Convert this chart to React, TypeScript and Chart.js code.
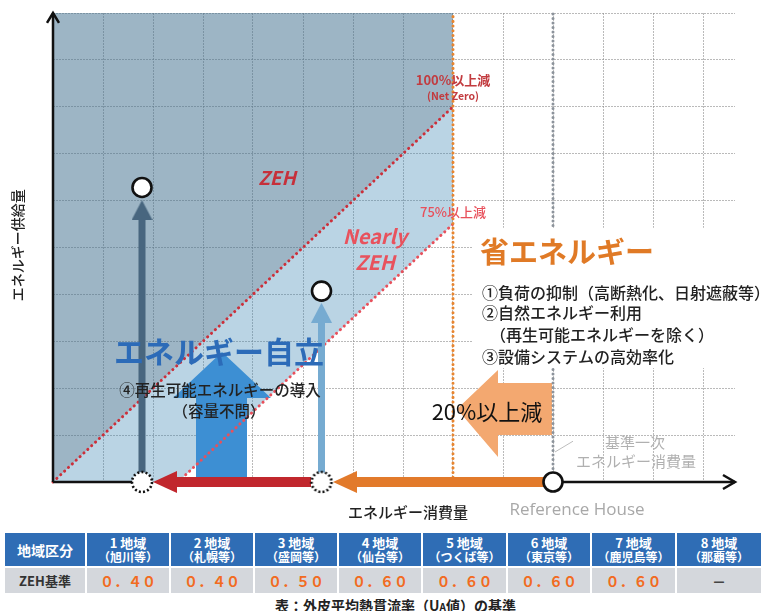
import React, { useEffect, useRef } from 'react';
import { Chart, registerables } from 'chart.js';

Chart.register(...registerables);

const FONT = '"Noto Sans CJK JP", "Noto Sans", sans-serif';

// ---- axis extents (relative units) ----
const X_MAX = 13.64;
const Y_MAX = 10;
const xGridTicks = [1, 2, 3, 4, 5, 6, 7, 8, 9, 10, 11, 12, 13];
const yGridTicks = [1, 2, 3, 4, 5, 6, 7, 8, 9, 10];

// ---- key energy levels ----
const referenceConsumption = 10; // Reference House
const zehConsumption = 8; // 20% reduction
const netZeroHouse = { consumption: 1.78, supply: 6.28 };
const nearlyZehHouse = { consumption: 5.37, supply: 4.07 };

// ---- regions / shapes (relative units) ----
const zehArea = [[0, 0], [8, 8], [8, 10], [0, 10]];
const nearlyArea = [[0, 0], [2.5, 0], [8, 5.5], [8, 8]];
const line100 = [[0, 0], [8, 8]];
const line75 = [[2.5, 0], [8, 5.5]];
const blueBigArrow = [[3.38, 2.77], [4.36, 1.79], [3.88, 1.79], [3.88, 0.1], [2.86, 0.1], [2.86, 1.79], [2.4, 1.79]];
const orangeBigArrow = [[8.08, 1.556], [8.9, 2.388], [8.9, 2.11], [9.98, 2.11], [9.98, 1.0], [8.9, 1.0], [8.9, 0.533]];
const darkShaft = [[1.78, 0], [1.78, 5.62]];
const darkHeadTip = [1.78, 6.01];
const lightShaft = [[5.37, 0], [5.37, 3.42]];
const lightHeadTip = [5.37, 3.82];
const redShaft = [[5.16, 0], [2.45, 0]];
const redHeadTip = [2.0, 0];
const orangeShaft = [[9.82, 0], [6.05, 0]];
const orangeHeadTip = [5.6, 0];
const xAxisLeft = [[0, 0], [1.6, 0]];
const xAxisRight = [[10, 0], [13.64, 0]];
const xAxisChevron = [[13.4, 0.15], [13.64, 0], [13.4, -0.15]];
const yAxisLine = [[0, 0], [0, 10]];
const yAxisChevron = [[-0.12, 9.79], [0, 10], [0.12, 9.79]];
const leaderLine = [[10.04, 0.64], [10.4, 0.87]];

// ---- table ----
const regionNames = ['1地域', '2地域', '3地域', '4地域', '5地域', '6地域', '7地域', '8地域'];
const regionCities = ['（旭川等）', '（札幌等）', '（盛岡等）', '（仙台等）', '（つくば等）', '（東京等）', '（鹿児島等）', '（那覇等）'];
const zehUaValues = ['０．４０', '０．４０', '０．５０', '０．６０', '０．６０', '０．６０', '０．６０', '－'];
const colWidths = [82, 84, 84, 84, 84, 85, 84, 85, 84];

type Label = { text: string; x: number; y: number; font: string; color: string; align?: CanvasTextAlign; rotate?: boolean };
const labels: Label[] = [
  { text: 'ZEH', x: 4.48, y: 6.48, font: 'italic bold 19px', color: '#c6303b' },
  { text: 'Nearly', x: 6.44, y: 5.245, font: 'italic bold 20px', color: '#e8525d' },
  { text: 'ZEH', x: 6.44, y: 4.69, font: 'italic bold 20px', color: '#e8525d' },
  { text: '100%以上減', x: 8.0, y: 8.57, font: 'bold 13px', color: '#c23b3f' },
  { text: '(Net Zero)', x: 8.0, y: 8.22, font: 'bold 10.5px', color: '#c23b3f' },
  { text: '75%以上減', x: 8.0, y: 5.76, font: '500 13px', color: '#e8505b' },
  { text: '省エネルギー', x: 8.54, y: 4.9, font: 'bold 29px', color: '#e07a26', align: 'left' },
  { text: '①負荷の抑制（高断熱化、日射遮蔽等）', x: 8.58, y: 4.03, font: '500 16px', color: '#222', align: 'left' },
  { text: '②自然エネルギー利用', x: 8.58, y: 3.6, font: '500 16px', color: '#222', align: 'left' },
  { text: '　（再生可能エネルギーを除く）', x: 8.58, y: 3.13, font: '500 16px', color: '#222', align: 'left' },
  { text: '③設備システムの高効率化', x: 8.58, y: 2.665, font: '500 16px', color: '#222', align: 'left' },
  { text: '20%以上減', x: 8.68, y: 1.49, font: '22px', color: '#111' },
  { text: '基準一次', x: 11.64, y: 0.853, font: '15px', color: '#b0b0b0' },
  { text: 'エネルギー消費量', x: 11.66, y: 0.45, font: '15px', color: '#b0b0b0' },
  { text: 'Reference House', x: 10.48, y: -0.6, font: '17px "Open Sans", ', color: '#a8a8a8' },
  { text: 'エネルギー消費量', x: 7.1, y: -0.64, font: '500 15px', color: '#222' },
  { text: 'エネルギー供給量', x: -0.7, y: 5.05, font: '500 14px', color: '#222', rotate: true },
  { text: 'エネルギー自立', x: 3.32, y: 2.77, font: 'bold 30px', color: '#2c6bb8' },
  { text: '④再生可能エネルギーの導入', x: 3.34, y: 1.96, font: '500 15.5px', color: '#222' },
  { text: '（容量不問）', x: 3.32, y: 1.51, font: '500 15.5px', color: '#222' },
];

const pts = (arr: number[][]) => arr.map(([x, y]) => ({ x, y }));

function arrowHeadCanvas(dir: 'up' | 'left', length: number, width: number, color: string) {
  const c = document.createElement('canvas');
  const ctx = c.getContext('2d')!;
  if (dir === 'up') {
    c.width = Math.ceil(width);
    c.height = Math.ceil(length * 2);
    ctx.fillStyle = color;
    ctx.beginPath();
    ctx.moveTo(width / 2, length);
    ctx.lineTo(width, length * 2);
    ctx.lineTo(0, length * 2);
    ctx.closePath();
    ctx.fill();
  } else {
    c.width = Math.ceil(length * 2);
    c.height = Math.ceil(width);
    ctx.fillStyle = color;
    ctx.beginPath();
    ctx.moveTo(length, width / 2);
    ctx.lineTo(length * 2, 0);
    ctx.lineTo(length * 2, width);
    ctx.closePath();
    ctx.fill();
  }
  return c;
}

function dottedCircleCanvas() {
  const c = document.createElement('canvas');
  c.width = 26;
  c.height = 26;
  const ctx = c.getContext('2d')!;
  ctx.beginPath();
  ctx.arc(13, 13, 10, 0, Math.PI * 2);
  ctx.fillStyle = '#fff';
  ctx.fill();
  ctx.setLineDash([2, 2.2]);
  ctx.lineWidth = 2.6;
  ctx.strokeStyle = '#111';
  ctx.stroke();
  return c;
}

export default function App() {
  const ref = useRef<HTMLCanvasElement>(null);

  useEffect(() => {
    if (!ref.current) return;
    const polygon = (data: number[][], color: string) => ({
      type: 'line' as const,
      data: pts(data),
      fill: 'shape',
      backgroundColor: color,
      borderColor: 'transparent',
      borderWidth: 0,
      pointRadius: 0,
    });
    const line = (data: number[][], color: string, width: number, dash?: number[], cap: CanvasLineCap = 'butt') => ({
      type: 'line' as const,
      data: pts(data),
      fill: false,
      borderColor: color,
      borderWidth: width,
      borderDash: dash || [],
      borderCapStyle: cap,
      borderJoinStyle: 'miter' as const,
      pointRadius: 0,
      clip: false as const,
    });
    const image = (at: number[][], style: any) => ({
      type: 'line' as const,
      data: pts(at),
      showLine: false,
      pointStyle: style,
      pointRadius: 10,
      clip: false as const,
    });
    const circle = (at: number[][]) => ({
      type: 'line' as const,
      data: pts(at),
      showLine: false,
      pointStyle: 'circle',
      pointRadius: 9.5,
      pointBorderWidth: 2.6,
      pointBorderColor: '#111',
      pointBackgroundColor: '#fff',
      clip: false as const,
    });

    const dotted = dottedCircleCanvas();
    const layers: any[] = [
      polygon(zehArea, 'rgba(59,107,139,0.5)'),
      polygon(nearlyArea, 'rgba(64,135,181,0.36)'),
      polygon(blueBigArrow, '#3d8fd3'),
      polygon(orangeBigArrow, '#f3a870'),
      line(line100, '#cc2f3a', 3, [0.1, 5.2], 'round'),
      line(line75, '#e8505b', 3, [0.1, 5.2], 'round'),
      line([[zehConsumption, 0], [zehConsumption, Y_MAX]], '#e8852f', 3, [0.1, 4.6], 'round'),
      line([[referenceConsumption, 0], [referenceConsumption, Y_MAX]], '#8c939b', 3, [0.1, 4.4], 'round'),
      line(darkShaft, '#48667f', 7),
      image([darkHeadTip], arrowHeadCanvas('up', 20, 21, '#48667f')),
      line(lightShaft, '#76abd1', 7),
      image([lightHeadTip], arrowHeadCanvas('up', 20, 21, '#76abd1')),
      line(yAxisLine, '#111', 2.5),
      line(yAxisChevron, '#111', 2.5),
      line(xAxisLeft, '#111', 2.5),
      line(xAxisRight, '#111', 2.5),
      line(xAxisChevron, '#111', 2.5),
      line(redShaft, '#c1272d', 10),
      image([redHeadTip], arrowHeadCanvas('left', 24, 22, '#c1272d')),
      line(orangeShaft, '#e27a2b', 10),
      image([orangeHeadTip], arrowHeadCanvas('left', 24, 22, '#e27a2b')),
      line(leaderLine, '#bdbdbd', 1),
      image([[netZeroHouse.consumption, 0], [nearlyZehHouse.consumption, 0]], dotted),
      circle([[referenceConsumption, 0], [netZeroHouse.consumption, netZeroHouse.supply], [nearlyZehHouse.consumption, nearlyZehHouse.supply]]),
    ];
    const n = layers.length;
    layers.forEach((d, i) => (d.order = n - i));

    const textPlugin = {
      id: 'texts',
      afterDatasetsDraw(chart: any) {
        const { ctx, scales } = chart;
        const X = (v: number) => scales.x.getPixelForValue(v);
        const Y = (v: number) => scales.y.getPixelForValue(v);
        ctx.save();
        // white panel behind the 省エネルギー text
        ctx.fillStyle = '#fff';
        const top = Y(5.42);
        const bottom = Y(2.43);
        const left = X(8.38);
        ctx.fillRect(left, top, chart.width - left, bottom - top);
        ctx.textBaseline = 'middle';
        for (const l of labels) {
          ctx.font = `${l.font} ${FONT}`;
          ctx.fillStyle = l.color;
          ctx.textAlign = l.align || 'center';
          if (l.rotate) {
            ctx.save();
            ctx.translate(X(l.x), Y(l.y));
            ctx.rotate(-Math.PI / 2);
            ctx.fillText(l.text, 0, 0);
            ctx.restore();
          } else {
            ctx.fillText(l.text, X(l.x), Y(l.y));
          }
        }
        ctx.restore();
      },
    };

    const gridColor = 'rgba(140,140,140,0.6)';
    const chart = new Chart(ref.current, {
      type: 'line',
      data: { datasets: layers },
      options: {
        responsive: false,
        animation: false,
        events: [],
        layout: { padding: { left: 53, right: 39, top: 13, bottom: 48 } },
        plugins: {
          legend: { display: false },
          tooltip: { enabled: false },
          filler: { drawTime: 'beforeDatasetDraw' },
        } as any,
        scales: {
          x: {
            type: 'linear',
            min: 0,
            max: X_MAX,
            ticks: { display: false },
            grid: { color: gridColor, lineWidth: 1, drawTicks: false },
            border: { display: false, dash: [2, 1] },
            afterBuildTicks: (axis: any) => {
              axis.ticks = xGridTicks.map((v) => ({ value: v }));
            },
          },
          y: {
            type: 'linear',
            min: 0,
            max: Y_MAX,
            ticks: { display: false },
            grid: { color: gridColor, lineWidth: 1, drawTicks: false },
            border: { display: false, dash: [2, 1] },
            afterBuildTicks: (axis: any) => {
              axis.ticks = yGridTicks.map((v) => ({ value: v }));
            },
          },
        },
      },
      plugins: [textPlugin],
    });
    return () => chart.destroy();
  }, []);

  const cellBase: React.CSSProperties = {
    boxSizing: 'border-box',
    display: 'flex',
    flexDirection: 'column',
    alignItems: 'center',
    justifyContent: 'center',
    borderRight: '2px solid #fff',
  };

  return (
    <div style={{ position: 'absolute', left: 0, top: 0, width: 774, height: 611, background: '#fff', fontFamily: FONT }}>
      <canvas ref={ref} width={774} height={530} style={{ display: 'block' }} />
      <div style={{ position: 'absolute', left: 5, top: 533, width: 758 }}>
        <div style={{ display: 'flex', height: 33 }}>
          <div style={{ ...cellBase, width: colWidths[0], background: '#2f6db5', color: '#fff', fontWeight: 700, fontSize: 14 }}>地域区分</div>
          {regionNames.map((r, i) => (
            <div key={r} style={{ ...cellBase, width: colWidths[i + 1], background: '#2f6db5', color: '#fff', fontWeight: 700, lineHeight: '14px', borderRight: i === 7 ? 'none' : '2px solid #fff' }}>
              <span style={{ fontSize: 13 }}>{r.replace('地域', ' 地域')}</span>
              <span style={{ fontSize: 12 }}>{regionCities[i]}</span>
            </div>
          ))}
        </div>
        <div style={{ display: 'flex', height: 25, marginTop: 2 }}>
          <div style={{ ...cellBase, width: colWidths[0], background: '#d4d7dc', color: '#333', fontWeight: 700, fontSize: 13 }}>ZEH基準</div>
          {zehUaValues.map((v, i) => (
            <div key={i} style={{ ...cellBase, width: colWidths[i + 1], background: '#d4d7dc', color: v === '－' ? '#444' : '#f26b21', fontWeight: 700, fontSize: 14, borderRight: i === 7 ? 'none' : '2px solid #fff' }}>
              {v}
            </div>
          ))}
        </div>
      </div>
      <div style={{ position: 'absolute', left: 275, top: 595, fontSize: 14, fontWeight: 700, color: '#222', whiteSpace: 'nowrap', lineHeight: '20px' }}>
        表：外皮平均熱貫流率（U<span style={{ fontSize: 10 }}>A</span>値）の基準
      </div>
    </div>
  );
}
